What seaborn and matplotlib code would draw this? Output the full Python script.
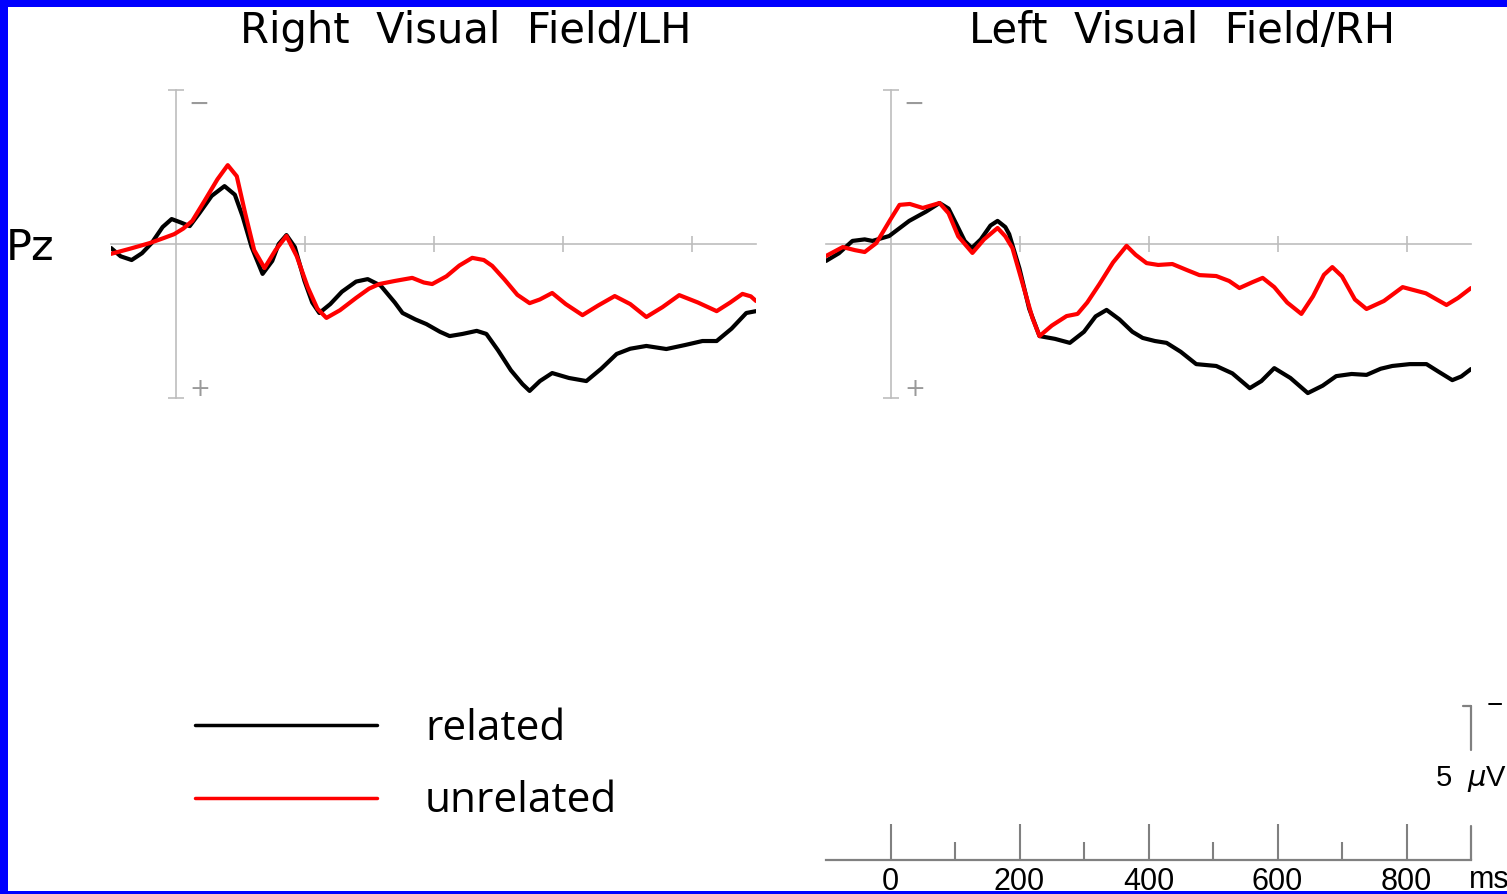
import numpy as np
import pandas as pd
import seaborn as sns
import matplotlib.pyplot as plt
from matplotlib.patches import Rectangle

# 时间 (ms) 与电压 (µV)，负值向上
lh_related_ms = [-100, -85, -68, -52, -37, -20, -6, 8, 22, 37, 56, 76, 92, 104, 118, 135, 150, 160, 172, 185,
                 200, 212, 223, 240, 258, 280, 298, 318, 340, 352, 372, 389, 410, 425, 445, 467, 482, 500, 520,
                 538, 549, 565, 584, 610, 637, 660, 684, 705, 730, 761, 790, 817, 839, 862, 885, 900]
lh_related_uv = [0.13, 0.40, 0.52, 0.30, -0.03, -0.55, -0.81, -0.70, -0.58, -1.00, -1.56, -1.88, -1.60, -0.90,
                 0.10, 0.97, 0.55, 0.00, -0.29, 0.10, 1.20, 1.90, 2.24, 1.95, 1.55, 1.22, 1.14, 1.35, 1.90, 2.24,
                 2.45, 2.60, 2.85, 2.99, 2.92, 2.82, 2.92, 3.45, 4.10, 4.55, 4.77, 4.45, 4.19, 4.35, 4.45, 4.05,
                 3.57, 3.40, 3.31, 3.41, 3.28, 3.15, 3.15, 2.75, 2.24, 2.18]

lh_unrelated_ms = [-100, -70, -40, -20, -2, 12, 26, 45, 65, 81, 95, 108, 122, 138, 155, 172, 188, 205, 220, 234,
                   255, 280, 300, 316, 340, 367, 385, 398, 420, 440, 460, 478, 491, 510, 530, 549, 565, 584, 605,
                   631, 655, 681, 705, 730, 755, 781, 810, 839, 860, 879, 892, 900]
lh_unrelated_uv = [0.32, 0.15, -0.03, -0.18, -0.32, -0.50, -0.75, -1.40, -2.10, -2.56, -2.20, -1.00, 0.20, 0.78,
                   0.20, -0.26, 0.40, 1.40, 2.10, 2.40, 2.15, 1.75, 1.45, 1.30, 1.20, 1.10, 1.25, 1.30, 1.05, 0.70,
                   0.45, 0.52, 0.71, 1.15, 1.65, 1.92, 1.80, 1.59, 1.95, 2.31, 2.00, 1.69, 1.95, 2.37, 2.05, 1.66,
                   1.90, 2.18, 1.90, 1.62, 1.70, 1.85]

rh_related_ms = [-100, -80, -59, -40, -28, -2, 29, 55, 76, 90, 102, 115, 126, 140, 155, 166, 178, 184, 200, 215,
                 231, 255, 278, 300, 318, 335, 355, 375, 391, 410, 428, 450, 474, 505, 530, 557, 575, 595, 620,
                 647, 670, 691, 715, 738, 760, 778, 805, 831, 850, 871, 885, 900]
rh_related_uv = [0.55, 0.30, -0.10, -0.15, -0.10, -0.26, -0.75, -1.05, -1.33, -1.15, -0.65, -0.10, 0.13, -0.15,
                 -0.60, -0.75, -0.55, -0.32, 0.80, 2.10, 2.99, 3.08, 3.21, 2.85, 2.35, 2.14, 2.45, 2.85, 3.05, 3.15,
                 3.21, 3.50, 3.90, 3.96, 4.20, 4.68, 4.45, 4.03, 4.35, 4.84, 4.60, 4.29, 4.22, 4.25, 4.05, 3.96,
                 3.90, 3.90, 4.15, 4.42, 4.30, 4.06]

rh_unrelated_ms = [-100, -74, -55, -40, -22, 0, 14, 30, 50, 76, 90, 105, 127, 145, 166, 178, 189, 205, 220, 231,
                   250, 273, 290, 305, 324, 345, 366, 380, 397, 415, 437, 460, 479, 505, 525, 541, 560, 577, 595,
                   615, 637, 655, 672, 685, 700, 720, 738, 765, 794, 830, 862, 880, 900]
rh_unrelated_uv = [0.39, 0.10, 0.20, 0.26, -0.03, -0.80, -1.27, -1.30, -1.17, -1.33, -1.00, -0.25, 0.29, -0.15,
                   -0.52, -0.25, 0.13, 1.30, 2.40, 2.99, 2.65, 2.34, 2.27, 1.90, 1.30, 0.60, 0.06, 0.35, 0.62, 0.68,
                   0.65, 0.85, 1.01, 1.04, 1.20, 1.43, 1.25, 1.10, 1.40, 1.90, 2.27, 1.70, 1.00, 0.75, 1.05, 1.80,
                   2.11, 1.85, 1.40, 1.60, 1.98, 1.75, 1.43]

titles = ["Right  Visual  Field/LH", "Left  Visual  Field/RH"]
conditions = ["related", "unrelated"]
scale_ticks = [0, 200, 400, 600, 800]
scale_minor = [100, 300, 500, 700]


def make_df(ms_rel, uv_rel, ms_unr, uv_unr):
    d1 = pd.DataFrame({"ms": ms_rel, "uV": uv_rel, "condition": "related"})
    d2 = pd.DataFrame({"ms": ms_unr, "uV": uv_unr, "condition": "unrelated"})
    return pd.concat([d1, d2], ignore_index=True)


panels = [make_df(lh_related_ms, lh_related_uv, lh_unrelated_ms, lh_unrelated_uv),
          make_df(rh_related_ms, rh_related_uv, rh_unrelated_ms, rh_unrelated_uv)]

sns.set_style("white")
plt.rcParams['font.family'] = ['DejaVu Sans']
plt.rcParams['text.color'] = 'black'
plt.rcParams['xtick.color'] = 'black'
plt.rcParams['lines.solid_joinstyle'] = 'round'

W, H = 1507, 894
fig = plt.figure(figsize=(W / 100, H / 100), dpi=100)
fig.patch.set_facecolor("#0000ff")
fig.patches.append(Rectangle((8 / W, 3 / H), (W - 8) / W, (H - 10) / H, transform=fig.transFigure,
                             facecolor="white", edgecolor="none", zorder=-10))


def px_axes(x0, x1, y0, y1):
    # 像素坐标 -> figure 坐标
    return fig.add_axes([x0 / W, 1 - y1 / H, (x1 - x0) / W, (y1 - y0) / H])


palette = {"related": "black", "unrelated": "#ff0000"}
axis_grey = "#bdbdbd"
panel_left = [111, 826]
title_x = [466, 1182]

for i in range(2):
    ax = px_axes(panel_left[i], panel_left[i] + 645, 90, 398)
    ax.set_facecolor("none")
    sns.lineplot(data=panels[i], x="ms", y="uV", hue="condition", palette=palette, sort=False,
                 estimator=None, linewidth=3.0, legend=False, ax=ax, zorder=3)
    ax.set_xlim(-100, 900)
    ax.set_ylim(5, -5)
    ax.spines["top"].set_visible(False)
    ax.spines["right"].set_visible(False)
    ax.spines["bottom"].set_position(("data", 0))
    ax.spines["left"].set_position(("data", 0))
    for s in ["bottom", "left"]:
        ax.spines[s].set_color(axis_grey)
        ax.spines[s].set_linewidth(1.2)
    ax.set_xticks([200, 400, 600, 800])
    ax.set_yticks([-5, 5])
    ax.tick_params(direction="inout", length=11.5, width=1.2, color=axis_grey, bottom=True, left=True,
                   labelbottom=False, labelleft=False)
    ax.set_xlabel("")
    ax.set_ylabel("")
    ax.text(37, -4.55, "−", color="#9a9a9a", fontsize=18, ha="center", va="center")
    ax.text(37, 4.71, "+", color="#9a9a9a", fontsize=18, ha="center", va="center")
    fig.text(title_x[i] / W, 1 - 31 / H, titles[i], fontsize=30, ha="center", va="center", color="black")
    if i == 0:
        leg_handles = ax.lines[:2]

fig.text(6 / W, 1 - 248 / H, "Pz", fontsize=31, ha="left", va="center")

# 图例
leg = fig.legend(leg_handles, conditions, loc="upper left", bbox_to_anchor=(195 / W, 1 - 708 / H),
                 frameon=False, prop={"family": "Open Sans", "size": 30.5}, handlelength=4.3,
                 handletextpad=1.13, labelspacing=0.72, borderpad=0, borderaxespad=0)
for ln in leg.get_lines():
    ln.set_linewidth(2.5)
for t in leg.get_texts():
    t.set_color("black")

# 比例尺
sax = px_axes(826, 1471, 706, 860)
sax.set_facecolor("none")
sax.set_xlim(-100, 900)
sax.set_ylim(0, 5)
for s in ["top", "right", "left"]:
    sax.spines[s].set_visible(False)
sax.spines["bottom"].set_color("#808080")
sax.spines["bottom"].set_linewidth(1.6)
sax.set_yticks([])
sax.set_xticks(scale_ticks)
sax.set_xticklabels([str(t) for t in scale_ticks], family="Liberation Sans")
sax.set_xticks(scale_minor, minor=True)
sax.tick_params(axis="x", which="major", direction="in", length=26, width=1.5, color="#808080",
                labelsize=22, pad=5, bottom=True, labelcolor="black")
sax.tick_params(axis="x", which="minor", direction="in", length=13, width=1.5, color="#808080", bottom=True)
sax.plot([900, 900], [0, 1.10], color="#808080", lw=1.6, clip_on=False)
sax.plot([900, 900], [3.57, 5], color="#808080", lw=1.6, clip_on=False)
sax.plot([888, 900], [5, 5], color="#808080", lw=1.6, clip_on=False)
fig.text(1435 / W, 1 - 779 / H, "5  $\\mu$V", fontsize=21, ha="left", va="center", family="Liberation Sans")
fig.text(1487 / W, 1 - 706 / H, "−", fontsize=20, ha="left", va="center", family="Liberation Sans")
fig.text(1469 / W, 1 - 880 / H, "ms", fontsize=22, ha="left", va="center", family="Liberation Sans")

plt.savefig("out.png", dpi=100, facecolor=fig.get_facecolor())
